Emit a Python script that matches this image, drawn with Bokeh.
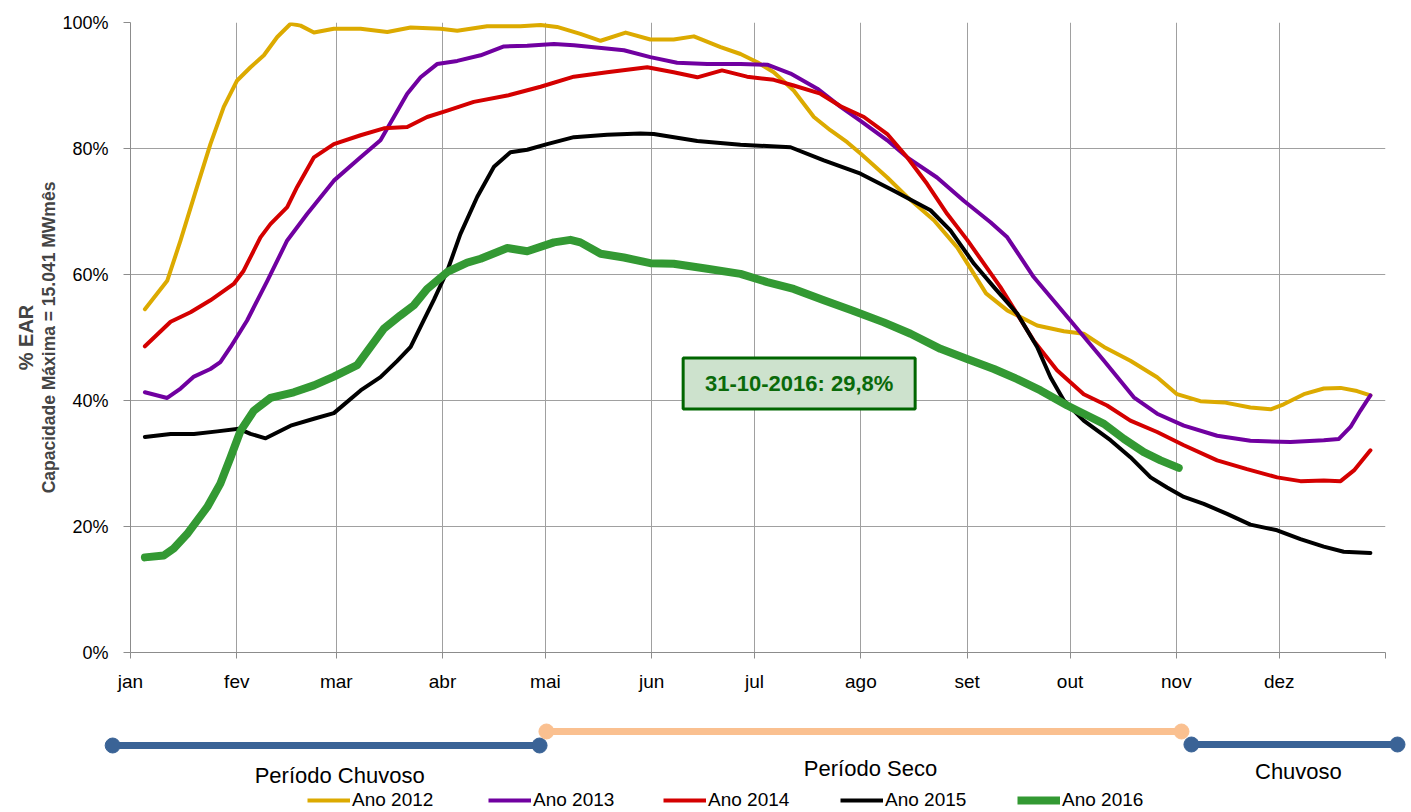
from bokeh.plotting import figure
from bokeh.models import Range1d, FixedTicker, LinearAxis, Legend, LegendItem, PrintfTickFormatter
from bokeh.core.properties import value
from bokeh.embed import file_html
from bokeh.resources import INLINE

# ---------------- data ----------------
months = ["jan", "fev", "mar", "abr", "mai", "jun", "jul", "ago", "set", "out", "nov", "dez"]
month_start = [0, 31, 60, 91, 121, 152, 182, 213, 244, 274, 305, 335]
year_days = 366

days_2012 = [4.2, 10.7, 14.6, 19.4, 23.3, 27.2, 31.1, 35, 38.9, 42.8, 46.7, 49.6, 53.5, 59.3, 67.1, 74.9, 81.7, 90.4, 95.3, 104,
             113.7, 119.6, 124.4, 131.2, 137.1, 144.4, 151.6, 158.4, 164.3, 172.1, 177.9, 182.8, 187.6, 193.4, 199.3, 204.1,
             209, 212.9, 220.7, 226.5, 234.3, 241.1, 244, 249.5, 255.7, 264.4, 272.2, 278, 283.9, 291.6, 299.4, 305.2, 312,
             318.9, 326.6, 332.5, 336.3, 342.2, 348, 352.9, 357.7, 361.6]
ear_2012 = [54.5, 59.0, 65.4, 73.9, 80.7, 86.6, 90.8, 92.9, 94.8, 97.7, 99.8, 99.5, 98.4, 99.0, 99.0, 98.5, 99.2, 99.0, 98.7, 99.4,
            99.4, 99.6, 99.3, 98.2, 97.1, 98.4, 97.3, 97.3, 97.8, 96.1, 95.0, 93.7, 92.1, 89.2, 85.0, 82.9,
            81.0, 79.2, 75.4, 72.3, 68.6, 64.3, 61.8, 57.0, 54.3, 51.9, 51.0, 50.6, 48.5, 46.3, 43.7, 41.0, 39.9,
            39.7, 38.9, 38.6, 39.4, 41.0, 41.9, 42.0, 41.5, 40.8]

days_2013 = [4.2, 10.7, 14.6, 18.5, 23.3, 26.2, 29.2, 34, 39.9, 45.7, 51.5, 59.3, 67.1, 72.9, 76.8, 80.7, 84.6, 89.4, 95.3, 102.1,
             108.9, 115.7, 123.5, 129.3, 143.9, 151.6, 159.4, 168.2, 177.9, 185.7, 192.5, 200.3, 207.1, 212.9, 220.7, 226.5,
             235.2, 243, 250.8, 255.7, 263.4, 274.1, 283.9, 292.6, 299.4, 307.2, 316.9, 326.6, 338.3, 348, 352.4, 355.8,
             358.7, 361.6]
ear_2013 = [41.3, 40.4, 41.9, 43.8, 45.0, 46.1, 48.5, 52.7, 59.0, 65.4, 69.6, 74.9, 78.6, 81.3, 85.0, 88.7, 91.3, 93.4, 93.9, 94.8,
            96.2, 96.3, 96.6, 96.4, 95.6, 94.5, 93.6, 93.4, 93.4, 93.3, 91.9, 89.5, 86.6, 84.4, 81.3, 78.6,
            75.4, 71.7, 68.3, 65.9, 59.6, 52.7, 46.3, 40.5, 37.9, 36.0, 34.4, 33.6, 33.4, 33.7, 33.9, 35.8,
            38.4, 40.8]

days_2014 = [4.2, 11.7, 17.5, 23.3, 30.1, 33, 37.9, 40.8, 45.7, 48.6, 53.5, 59.3, 67.1, 73.9, 80.7, 86.5, 92.4, 100.1, 109.9,
             119.6, 129.3, 139, 150.7, 158.4, 165.3, 172.5, 179.8, 187.6, 193.4, 201.2, 207.1, 213.9, 220.7, 226.5, 232.3,
             238.2, 244, 253.7, 263.4, 270.2, 278, 284.8, 291.6, 299.4, 307.2, 316.9, 325.6, 334.4, 341.2, 348, 352.9,
             356.8, 361.6]
ear_2014 = [48.6, 52.5, 54.0, 55.9, 58.5, 60.6, 65.9, 68.0, 70.7, 73.9, 78.6, 80.7, 82.1, 83.2, 83.4, 85.0, 86.0, 87.4, 88.4,
            89.8, 91.4, 92.1, 92.9, 92.1, 91.3, 92.4, 91.4, 90.9, 90.0, 88.7, 86.7, 85.0, 82.3, 78.6, 74.4,
            69.6, 65.5, 58.0, 49.5, 44.8, 41.0, 39.2, 36.8, 35.0, 32.9, 30.5, 29.1, 27.8, 27.2, 27.3, 27.2,
            28.9, 32.1]

days_2015 = [4.2, 11.7, 18.5, 25.3, 31.6, 35, 39.4, 46.7, 53.5, 59.3, 67.1, 72.9, 77.8, 81.7, 85.5, 88.5, 92.4, 96.2, 101.1,
             106, 110.8, 115.7, 121.5, 129.3, 139, 148.7, 152.6, 165.3, 177.9, 192.5, 202.2, 212.9, 222.6, 233.3, 239.1,
             246, 251.8, 258.6, 264.4, 268.3, 272.2, 278, 285.8, 291.6, 297.5, 302.3, 307.2, 313, 319.8, 326.6, 334.4,
             341.2, 348, 353.8, 361.6]
ear_2015 = [34.2, 34.7, 34.7, 35.1, 35.5, 34.7, 34.0, 36.0, 37.1, 38.0, 41.6, 43.7, 46.3, 48.5, 52.7, 56.0, 60.6, 66.4, 72.3,
            77.1, 79.4, 79.8, 80.7, 81.8, 82.2, 82.4, 82.3, 81.2, 80.6, 80.2, 78.1, 76.0, 73.3, 70.2, 67.0,
            61.7, 58.0, 53.8, 48.5, 43.7, 40.0, 36.8, 33.7, 31.0, 27.8, 26.2, 24.7, 23.6, 22.0, 20.3, 19.4,
            18.0, 16.8, 16.0, 15.8]

days_2016 = [4.2, 9.7, 12.6, 16.5, 22.4, 26.2, 29.2, 32.1, 36, 40.8, 47.6, 53.5, 59.3, 66.1, 70, 73.9, 78.7, 82.6, 86.5, 92.4,
             98.2, 102.1, 109.9, 115.7, 123.5, 128.3, 131.2, 137.1, 143.9, 151.6, 158.4, 168.2, 177.9, 185.7, 193.4, 202.2,
             210.5, 219.7, 227.5, 236.2, 244, 251.8, 258.6, 265.4, 273.2, 278, 283.9, 289.7, 295.5, 300.4, 305.7]
ear_2016 = [15.1, 15.4, 16.5, 18.8, 23.1, 26.8, 31.0, 35.2, 38.4, 40.4, 41.3, 42.4, 43.8, 45.6, 48.5, 51.4, 53.5, 55.1, 57.7, 60.4,
            61.9, 62.5, 64.2, 63.7, 65.1, 65.5, 65.1, 63.3, 62.7, 61.8, 61.7, 60.9, 60.1, 58.8, 57.7, 55.9,
            54.3, 52.4, 50.6, 48.2, 46.6, 45.0, 43.4, 41.6, 39.2, 37.9, 36.3, 33.9, 31.8, 30.5, 29.3]

series_labels = ["Ano 2012", "Ano 2013", "Ano 2014", "Ano 2015", "Ano 2016"]
y_ticks = [0, 20, 40, 60, 80, 100]

note_text = "31-10-2016: 29,8%"
note_day = 195.0
note_value = 42.7

period_names = ["Período Chuvoso", "Período Seco", "Chuvoso"]
period_start = [-5.2, 121.3, 309.4]
period_end = [119.3, 306.5, 369.5]
period_label_day = [61.0, 215.8, 340.6]

# ---------------- style ----------------
FONT = "Liberation Sans"
colors = ["#DCAA00", "#7000A0", "#D40000", "#000000", "#339933"]
widths = [4, 4, 4, 4, 8]
GRID = "#A0A0A0"
AXIS = "#8C8C8C"

W = 1411
LEFT, RIGHT, TOP, BOTTOM = 130, 26, 22, 46
H1 = 698
H2 = 114

p = figure(width=W, height=H1, x_range=Range1d(0, year_days), y_range=Range1d(0, 100),
           output_backend="svg", toolbar_location=None,
           min_border_left=LEFT, min_border_right=RIGHT, min_border_top=TOP, min_border_bottom=BOTTOM)
p.outline_line_color = None
p.title.visible = False

# x axis
p.xaxis.ticker = FixedTicker(ticks=month_start + [year_days])
overrides = {d: m for d, m in zip(month_start, months)}
overrides[year_days] = ""
p.xaxis.major_label_overrides = overrides
p.xaxis.axis_line_color = AXIS
p.xaxis.major_tick_line_color = AXIS
p.xaxis.major_tick_out = 6
p.xaxis.major_tick_in = 0
p.xaxis.minor_tick_line_color = None
p.xaxis.major_label_standoff = 12
p.xaxis.major_label_text_font = FONT
p.xaxis.major_label_text_font_size = "19px"
p.xaxis.major_label_text_color = "#000000"

# y axis
p.yaxis.ticker = FixedTicker(ticks=y_ticks)
p.yaxis.formatter = PrintfTickFormatter(format="%d%%")
p.yaxis.axis_line_color = AXIS
p.yaxis.major_tick_line_color = AXIS
p.yaxis.major_tick_out = 7
p.yaxis.major_tick_in = 0
p.yaxis.minor_tick_line_color = None
p.yaxis.major_label_standoff = 15
p.yaxis.major_label_text_font = FONT
p.yaxis.major_label_text_font_size = "18px"
p.yaxis.major_label_text_color = "#000000"
p.yaxis.axis_label = "Capacidade Máxima = 15.041 MWmês"
p.yaxis.axis_label_text_font = FONT
p.yaxis.axis_label_text_font_style = "bold"
p.yaxis.axis_label_text_font_size = "17.5px"
p.yaxis.axis_label_standoff = 0

extra = LinearAxis(ticker=FixedTicker(ticks=[]), axis_label="% EAR")
extra.axis_line_color = None
extra.major_tick_line_color = None
extra.minor_tick_line_color = None
extra.major_tick_out = 0
extra.major_label_standoff = 0
extra.major_label_text_font_size = "0px"
extra.axis_label_text_font = FONT
extra.axis_label_text_font_style = "bold"
extra.axis_label_text_font_size = "20px"
extra.axis_label_standoff = 0
p.add_layout(extra, "left")

# grid
p.xgrid.ticker = FixedTicker(ticks=month_start + [year_days])
p.xgrid.grid_line_color = GRID
p.ygrid.ticker = FixedTicker(ticks=y_ticks)
p.ygrid.grid_line_color = GRID

all_days = [days_2012, days_2013, days_2014, days_2015, days_2016]
all_vals = [ear_2012, ear_2013, ear_2014, ear_2015, ear_2016]
for d, v, c, w in zip(all_days, all_vals, colors, widths):
    p.line(d, v, line_color=c, line_width=w, line_join="round", line_cap="round")

# annotation box
p.rect(x=[note_day], y=[note_value], width=232, height=51, width_units="screen", height_units="screen",
       fill_color="#CDE2CD", line_color="#006600", line_width=3)
p.text(x=[note_day], y=[note_value], text=[note_text], text_align="center", text_baseline="middle",
       text_font=value(FONT), text_font_style="bold", text_font_size="22px", text_color="#0A6A0A")

# ---------------- lower strip: periods + legend ----------------
ppd = (W - LEFT - RIGHT) / year_days
x0 = -LEFT / ppd
x1 = year_days + RIGHT / ppd
p2 = figure(width=W, height=H2, x_range=Range1d(x0, x1), y_range=Range1d(H2, 0),
            x_axis_type=None, y_axis_type=None, output_backend="svg", toolbar_location=None,
            min_border=0)
p2.outline_line_color = None
p2.grid.visible = False
p2.title.visible = False
p2.extra_y_ranges = {"hidden": Range1d(1000, 2000)}

period_colors = ["#3A6396", "#FAC090", "#3A6396"]
bar_y = [47, 33, 46]
text_y = [77, 70, 73]
for s, e, c, y in zip(period_start, period_end, period_colors, bar_y):
    p2.segment(x0=[s], y0=[y], x1=[e], y1=[y], line_color=c, line_width=7)
    p2.scatter(x=[s, e], y=[y, y], size=15, fill_color=c, line_color=c)
p2.text(x=period_label_day, y=text_y, text=period_names, text_align="center", text_baseline="middle",
        text_font=value(FONT), text_font_size="22px", text_color="#000000")

legend_x = [307, 488, 663, 840, 1017]
for lab, d, v, c, w, lx in zip(series_labels, all_days, all_vals, colors, widths, legend_x):
    # legend proxy: the same series on a hidden range of the strip
    r = p2.line(d, v, line_color=c, line_width=w, y_range_name="hidden")
    leg = Legend(items=[LegendItem(label=lab, renderers=[r])], location=(lx, 0), orientation="horizontal",
                 glyph_width=43, glyph_height=24, label_height=24, label_standoff=2, padding=0, margin=0,
                 border_line_color=None, background_fill_alpha=0,
                 label_text_font=FONT, label_text_font_size="19px", label_text_color="#000000")
    p2.add_layout(leg)

open("out.html", "w").write(file_html([p, p2], INLINE))
